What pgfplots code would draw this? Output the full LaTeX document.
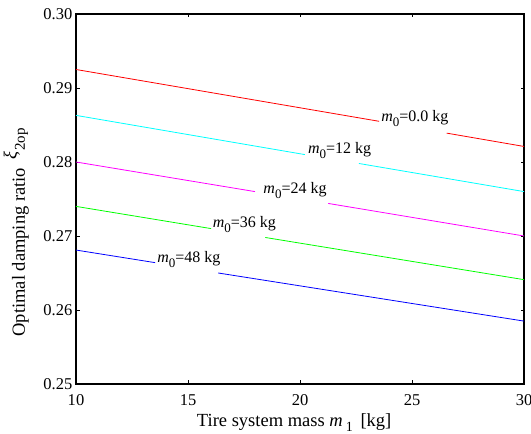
\documentclass[border=0pt]{standalone}
\usepackage{fontspec}
\setmainfont{Liberation Serif}
\usepackage{pgfplots}
\pgfplotsset{compat=1.18}
\definecolor{mred}{rgb}{1,0,0}
\definecolor{mcyan}{rgb}{0,1,1}
\definecolor{mmag}{rgb}{1,0,1}
\definecolor{mgreen}{rgb}{0,1,0}
\definecolor{mblue}{rgb}{0,0,1}
\newcommand{\mz}{\textit{m}\raisebox{-5pt}{\fontsize{13}{13}\selectfont 0}}
\begin{document}
\begin{tikzpicture}
\begin{axis}[
  name=ax,
  scale only axis,
  width=448pt, height=370pt,
  xmin=10, xmax=30, ymin=0.25, ymax=0.30,
  xtick={10,15,20,25,30},
  ytick={0.25,0.26,0.27,0.28,0.29,0.30},
  tick label style={font=\fontsize{16.5}{18}\selectfont, inner sep=2pt},
  yticklabel style={xshift=-1.5pt, /pgf/number format/.cd,fixed,fixed zerofill,precision=2},
  xticklabel style={yshift=-8pt},
  /pgf/number format/assume math mode=true,
  every axis x label/.style={at={(rel axis cs:0.487,0)}, yshift=-43pt, anchor=base, font=\fontsize{18.5}{20}\selectfont},
  every axis y label/.style={at={(rel axis cs:0,0.119)}, xshift=-51pt, rotate=90, anchor=base west, font=\fontsize{18.5}{20}\selectfont},
  xlabel={Tire system mass \textit{m}\,\raisebox{-5pt}{\fontsize{14}{14}\selectfont 1}\, [kg]},
  ylabel={Optimal damping ratio\hspace{0.45em}\raisebox{0.45em}{\textit{ξ}}\hspace{0.05em}{\fontsize{15}{15}\selectfont 2op}},
  tick align=inside, xtick pos=both, ytick pos=both,
  major tick length=3.5pt,
  axis line style={line width=1.1pt},
  tick style={black, line width=0.6pt},
  unbounded coords=jump,
  every axis plot/.append style={line width=0.8pt},
  clip=true,
]
\addplot[mred] coordinates {(10,0.2925) (23.53,0.2855) (nan,nan) (26.55,0.2839) (30,0.2821)};
\addplot[mcyan] coordinates {(10,0.2863) (20.22,0.2810) (nan,nan) (22.63,0.2798) (30,0.2760)};
\addplot[mmag] coordinates {(10,0.2800) (17.99,0.2760) (nan,nan) (21.26,0.2744) (30,0.2700)};
\addplot[mgreen] coordinates {(10,0.2740) (16.03,0.2710) (nan,nan) (18.45,0.2698) (30,0.2641)};
\addplot[mblue] coordinates {(10,0.2681) (13.53,0.2664) (nan,nan) (16.35,0.2650) (30,0.2585)};
\begin{scope}[every node/.style={anchor=base west, inner sep=0pt, font=\fontsize{16}{18}\selectfont}]
\node at (axis cs:23.62,0.2855) {\mz=0.0 kg};
\node at (axis cs:20.35,0.2812) {\mz=12 kg};
\node at (axis cs:18.36,0.2758) {\mz=24 kg};
\node at (axis cs:16.10,0.2711) {\mz=36 kg};
\node at (axis cs:13.62,0.2664) {\mz=48 kg};
\end{scope}
\end{axis}
\pgfresetboundingbox
\useasboundingbox ([shift={(-76pt,-50pt)}]ax.south west) rectangle ([shift={(7pt,14pt)}]ax.north east);
\end{tikzpicture}
\end{document}
